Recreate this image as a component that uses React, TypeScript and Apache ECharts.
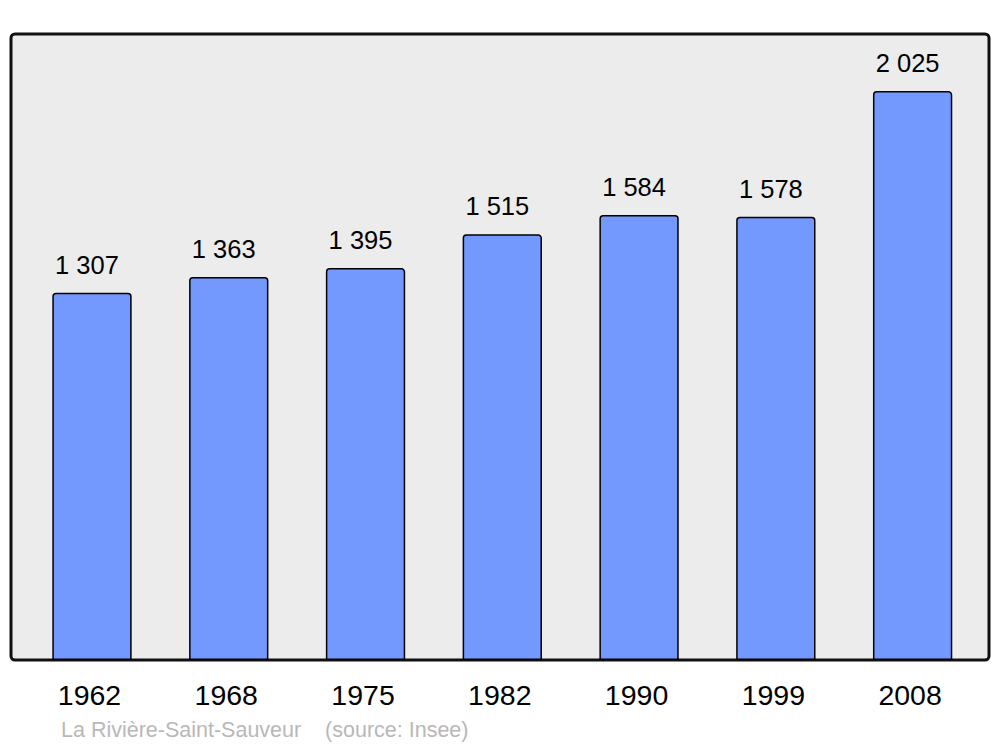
import React, { useEffect, useRef } from "react";
import * as echarts from "echarts";

const years = ["1962", "1968", "1975", "1982", "1990", "1999", "2008"];
const population = [1307, 1363, 1395, 1515, 1584, 1578, 2025];
const caption = "La Rivière-Saint-Sauveur    (source: Insee)";

function fmt(v: number): string {
  return String(v).replace(/\B(?=(\d{3})+(?!\d))/g, " ");
}

export default function App() {
  const ref = useRef<HTMLDivElement>(null);
  useEffect(() => {
    document.body.style.margin = "0";
    const chart = echarts.init(ref.current!, null, { renderer: "svg" });
    chart.setOption({
      animation: false,
      backgroundColor: "#ffffff",
      textStyle: { fontFamily: "Liberation Sans, Arial, sans-serif" },
      grid: { left: 23.6, right: 19, top: 34, bottom: 87 },
      graphic: [
        {
          type: "rect",
          z: -10,
          shape: { x: 11, y: 34, width: 978, height: 626, r: 4 },
          style: { fill: "#ececec", stroke: "#111111", lineWidth: 3 },
          silent: true,
        },
        {
          type: "text",
          left: 61,
          top: 719,
          style: {
            text: caption,
            fill: "#b8b8b8",
            font: "21.5px 'Liberation Sans', Arial, sans-serif",
          },
        },
      ],
      xAxis: {
        type: "category",
        data: years,
        axisLine: { show: false },
        axisTick: { show: false },
        axisLabel: {
          color: "#000",
          fontSize: 28.5,
          margin: 20,
          padding: [0, 5, 0, 0],
          fontFamily: "Liberation Sans, Arial, sans-serif",
        },
      },
      yAxis: {
        type: "value",
        min: 0,
        max: 2228,
        show: false,
        splitLine: { show: false },
      },
      series: [
        {
          type: "bar",
          data: population,
          barWidth: "58%",
          itemStyle: {
            color: "#7399ff",
            borderColor: "#000",
            borderWidth: 1.5,
            borderRadius: [3, 3, 0, 0],
          },
          label: {
            show: true,
            position: "top",
            distance: 15,
            offset: [-5, 0],
            color: "#000",
            fontSize: 25.5,
            fontFamily: "Liberation Sans, Arial, sans-serif",
            formatter: (p: any) => fmt(p.value),
          },
        },
      ],
    });
    return () => chart.dispose();
  }, []);
  return <div ref={ref} style={{ width: 1000, height: 747 }} />;
}
